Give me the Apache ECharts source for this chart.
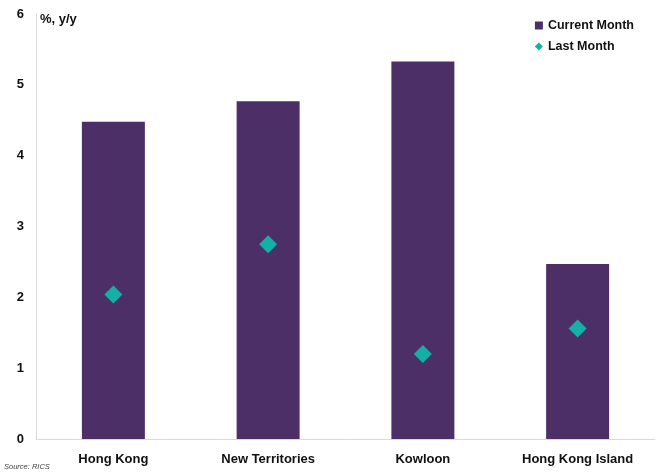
<!DOCTYPE html>
<html>
<head>
<meta charset="utf-8">
<style>
  html, body { margin: 0; padding: 0; background: #ffffff; }
  #chart { width: 659px; height: 476px; }
</style>
<script src="https://cdn.jsdelivr.net/npm/echarts@6/dist/echarts.min.js"></script>
</head>
<body>
<div id="chart"></div>
<script>
// Regional house price change, % y/y
const regions = ['Hong Kong', 'New Territories', 'Kowloon', 'Hong Kong Island'];
const currentMonth = [4.48, 4.77, 5.33, 2.47];
const lastMonth = [2.04, 2.75, 1.20, 1.56];
const yTicks = [0, 1, 2, 3, 4, 5, 6];

const FONT = '"Liberation Sans", Arial, sans-serif';
const chart = echarts.init(document.getElementById('chart'), null, { renderer: 'canvas' });

chart.setOption({
  animation: false,
  backgroundColor: '#ffffff',
  grid: { left: 36, right: 4, top: 14, bottom: 37, containLabel: false },
  legend: {
    orient: 'vertical',
    right: 20,
    top: 14,
    itemWidth: 8,
    itemHeight: 8,
    itemGap: 8,
    textStyle: { fontFamily: FONT, fontWeight: 'bold', fontSize: 12.5, color: '#111111' },
    data: [
      { name: 'Current Month', icon: 'rect' },
      { name: 'Last Month', icon: 'diamond' }
    ]
  },
  xAxis: {
    type: 'category',
    data: regions,
    axisLine: { lineStyle: { color: '#d9d9d9', width: 1 } },
    axisTick: { show: false },
    axisLabel: { fontFamily: FONT, fontWeight: 'bold', fontSize: 13, color: '#111111', margin: 14 }
  },
  yAxis: {
    type: 'value',
    min: yTicks[0],
    max: yTicks[yTicks.length - 1],
    interval: 1,
    splitLine: { show: false },
    axisLine: { show: true, lineStyle: { color: '#d9d9d9', width: 1 } },
    axisTick: { show: false },
    axisLabel: { fontFamily: FONT, fontWeight: 'bold', fontSize: 13, color: '#111111', margin: 12 }
  },
  series: [
    {
      name: 'Current Month',
      type: 'bar',
      data: currentMonth,
      barWidth: 63,
      itemStyle: { color: '#4d2f68' }
    },
    {
      name: 'Last Month',
      type: 'scatter',
      data: lastMonth,
      symbol: 'diamond',
      symbolSize: [18, 18],
      itemStyle: { color: '#12b0a5', opacity: 1 },
      z: 5
    }
  ],
  graphic: [
    {
      type: 'text',
      left: 40,
      top: 13,
      style: { text: '%, y/y', fontFamily: FONT, fontWeight: 'bold', fontSize: 13, fill: '#111111' }
    },
    {
      type: 'text',
      left: 4,
      top: 463,
      style: { text: 'Source: RICS', fontFamily: FONT, fontStyle: 'italic', fontSize: 7.5, fill: '#444444' }
    }
  ]
});
</script>
</body>
</html>
